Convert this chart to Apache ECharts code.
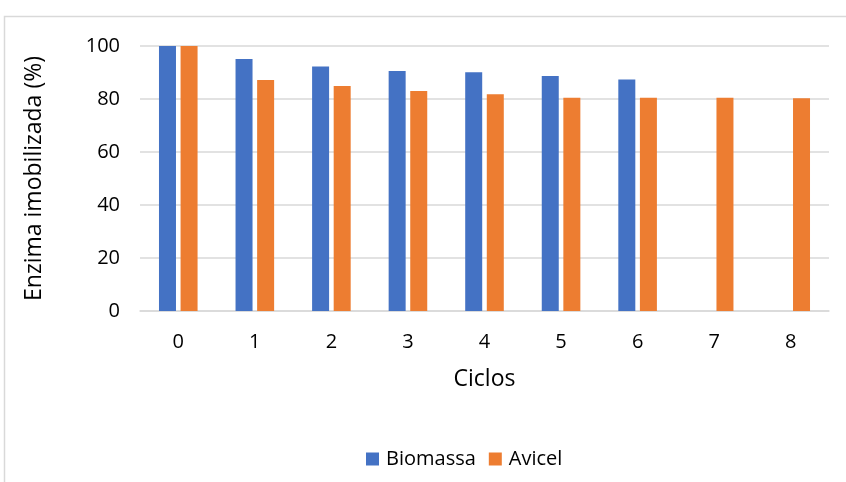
<!DOCTYPE html>
<html>
<head>
<meta charset="utf-8">
<style>
  html, body { margin: 0; padding: 0; background: #fff; }
  #chart { width: 846px; height: 482px; }
</style>
<script src="https://cdn.jsdelivr.net/npm/echarts@6/dist/echarts.min.js"></script>
</head>
<body>
<div id="chart"></div>
<script>
// Immobilised enzyme retained over reuse cycles
const ciclos = ['0', '1', '2', '3', '4', '5', '6', '7', '8'];
const biomassa = [100, 95.1, 92.3, 90.6, 90.1, 88.7, 87.4, null, null];
const avicel = [100, 87.2, 84.9, 83.0, 81.8, 80.5, 80.5, 80.5, 80.3];
const yTicks = [0, 20, 40, 60, 80, 100];

const FONT = '"Open Sans", "Liberation Sans", sans-serif';
const chart = echarts.init(document.getElementById('chart'), null, { renderer: 'canvas' });

chart.setOption({
  animation: false,
  textStyle: { fontFamily: FONT, color: '#000' },
  graphic: [{
    type: 'rect',
    shape: { x: 4.5, y: 16.5, width: 900, height: 600 },
    style: { fill: 'none', stroke: '#d9d9d9', lineWidth: 1.5 },
    silent: true
  }],
  grid: { left: 140, right: 17, top: 46, bottom: 171 },
  legend: {
    bottom: 8,
    left: 361,
    itemWidth: 13,
    itemHeight: 13,
    itemGap: 13,
    icon: 'rect',
    textStyle: { fontFamily: FONT, fontSize: 20, color: '#000', padding: [0, 0, 0, 2] },
    data: ['Biomassa', 'Avicel']
  },
  xAxis: {
    type: 'category',
    data: ciclos,
    name: 'Ciclos',
    nameLocation: 'middle',
    nameGap: 57,
    nameTextStyle: { fontFamily: FONT, fontSize: 23, color: '#000' },
    axisLine: { lineStyle: { color: '#d9d9d9', width: 1.5 } },
    axisTick: { show: false },
    axisLabel: { margin: 21, fontFamily: FONT, fontSize: 20, color: '#000' }
  },
  yAxis: {
    type: 'value',
    min: yTicks[0],
    max: yTicks[yTicks.length - 1],
    interval: 20,
    name: 'Enzima imobilizada (%)',
    nameLocation: 'middle',
    nameGap: 94,
    nameTextStyle: { fontFamily: FONT, fontSize: 23, color: '#000' },
    axisLine: { show: false },
    axisTick: { show: false },
    axisLabel: { margin: 20, fontFamily: FONT, fontSize: 20, color: '#000' },
    splitLine: { lineStyle: { color: '#d9d9d9', width: 1.5 } }
  },
  series: [
    {
      name: 'Biomassa',
      type: 'bar',
      data: biomassa,
      barWidth: 17,
      barGap: '27%',
      itemStyle: { color: '#4472c4' }
    },
    {
      name: 'Avicel',
      type: 'bar',
      data: avicel,
      barWidth: 17,
      itemStyle: { color: '#ed7d31' }
    }
  ]
});
</script>
</body>
</html>
